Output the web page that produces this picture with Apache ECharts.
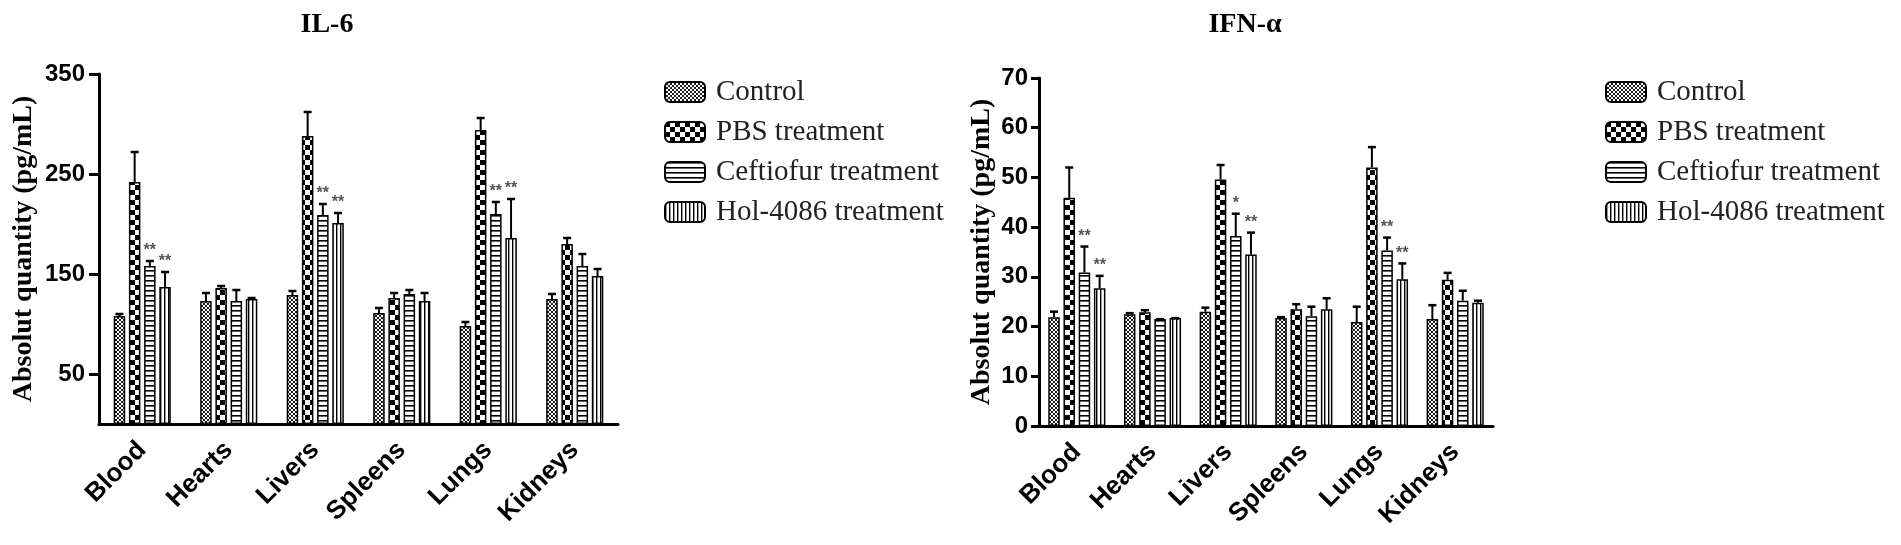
<!DOCTYPE html>
<html>
<head>
<meta charset="utf-8">
<title>IL-6 / IFN-α</title>
<script src="https://cdn.jsdelivr.net/npm/echarts@6/dist/echarts.min.js"></script>
<style>
    html, body { margin: 0; padding: 0; background: #fff; }
    #chart { width: 1901px; height: 545px; }
</style>
</head>
<body>
<div id="chart"></div>
<script>
    // data
    const categories = ['Blood', 'Hearts', 'Livers', 'Spleens', 'Lungs', 'Kidneys'];
    const groupNames = ['Control', 'PBS treatment', 'Ceftiofur treatment', 'Hol-4086 treatment'];

    // IL-6 (pg/mL)
    const il6Control    = [108, 123, 129, 111, 98, 125];
    const il6ControlErr = [110, 131, 133, 116, 102, 130];
    const il6Pbs        = [242, 136, 288, 126, 294, 180];
    const il6PbsErr     = [272, 138, 312, 131, 306, 186];
    const il6Ceft       = [158, 123, 209, 130, 210, 158];
    const il6CeftErr    = [163, 134, 220, 134, 222, 170];
    const il6Hol        = [137, 125, 201, 123, 186, 148];
    const il6HolErr     = [152, 126, 211, 131, 225, 155];
    const il6CeftSig    = ['**', '', '**', '', '**', ''];
    const il6HolSig     = ['**', '', '**', '', '**', ''];
    const il6Ticks      = [50, 150, 250, 350];

    // IFN-α (pg/mL)
    const ifnControl    = [21.9, 22.5, 23.0, 21.7, 20.9, 21.5];
    const ifnControlErr = [23.0, 22.7, 23.8, 21.9, 24.0, 24.3];
    const ifnPbs        = [45.9, 22.9, 49.6, 23.5, 52.0, 29.4];
    const ifnPbsErr     = [52.0, 23.3, 52.5, 24.5, 56.1, 30.8];
    const ifnCeft       = [30.9, 21.5, 38.2, 22.1, 35.3, 25.2];
    const ifnCeftErr    = [36.1, 21.5, 42.7, 24.0, 37.9, 27.2];
    const ifnHol        = [27.7, 21.7, 34.5, 23.5, 29.5, 24.8];
    const ifnHolErr     = [30.2, 21.7, 38.9, 25.7, 32.7, 25.2];
    const ifnCeftSig    = ['**', '', '*', '', '**', ''];
    const ifnHolSig     = ['**', '', '**', '', '**', ''];
    const ifnTicks      = [0, 10, 20, 30, 40, 50, 60, 70];

    // hatch patterns like the original print
    function pattern(w, h, draw) {
        const c = document.createElement('canvas');
        c.width = w; c.height = h;
        const ctx = c.getContext('2d');
        ctx.fillStyle = '#fff';
        ctx.fillRect(0, 0, w, h);
        ctx.fillStyle = '#000';
        ctx.strokeStyle = '#000';
        draw(ctx);
        return { image: c, repeat: 'repeat' };
    }
    const fills = [
        pattern(4, 4, function (ctx) {
            ctx.lineWidth = 0.9;
            ctx.beginPath();
            ctx.moveTo(0, 0); ctx.lineTo(4, 4);
            ctx.moveTo(4, 0); ctx.lineTo(0, 4);
            ctx.stroke();
        }),
        pattern(10, 10, function (ctx) {
            ctx.fillRect(0, 0, 5, 5);
            ctx.fillRect(5, 5, 5, 5);
        }),
        pattern(4, 5, function (ctx) {
            ctx.fillRect(0, 0, 4, 1.6);
        }),
        pattern(4, 4, function (ctx) {
            ctx.fillRect(0, 0, 1.4, 4);
        })
    ];

    const barW = 11.5;
    const gapPx = 3.7;
    const step = barW + gapPx;

    const sansBold = 'Liberation Sans';
    const serif = 'Liberation Serif';

    function barSeries(name, data, idx, axis) {
        return {
            name: name,
            type: 'bar',
            xAxisIndex: axis,
            yAxisIndex: axis,
            data: data,
            barWidth: barW,
            barGap: (gapPx / barW * 100).toFixed(1) + '%',
            itemStyle: { color: fills[idx], borderColor: '#000', borderWidth: 1.5 },
            emphasis: { disabled: true }
        };
    }

    function errorSeries(axis, vals, errs, sigs) {
        const data = [];
        const marks = [];
        for (let g = 0; g < vals.length; g++) {
            for (let c = 0; c < categories.length; c++) {
                data.push([c, vals[g][c], errs[g][c], g]);
                marks.push(sigs[g] ? sigs[g][c] : '');
            }
        }
        return {
            type: 'custom',
            xAxisIndex: axis,
            yAxisIndex: axis,
            z: 5,
            data: data,
            encode: { x: 0, y: [1, 2] },
            renderItem: function (params, api) {
                const c = api.value(0);
                const p0 = api.coord([c, api.value(1)]);
                const p1 = api.coord([c, api.value(2)]);
                const x = p0[0] + (api.value(3) - 1.5) * step;
                const children = [];
                if (p0[1] - p1[1] > 1) {
                    children.push({
                        type: 'line',
                        shape: { x1: x, y1: p0[1], x2: x, y2: p1[1] },
                        style: { stroke: '#000', lineWidth: 2 }
                    });
                }
                children.push({
                    type: 'line',
                    shape: { x1: x - 4, y1: p1[1], x2: x + 4, y2: p1[1] },
                    style: { stroke: '#000', lineWidth: 2.5 }
                });
                const m = marks[params.dataIndex];
                if (m) {
                    children.push({
                        type: 'text',
                        style: {
                            text: m, x: x, y: p1[1] - 2,
                            align: 'center', verticalAlign: 'bottom',
                            font: 'bold 16px ' + sansBold, fill: '#555'
                        }
                    });
                }
                return { type: 'group', children: children };
            }
        };
    }

    function xAxisOf(grid) {
        return {
            gridIndex: grid,
            type: 'category',
            data: categories,
            axisLine: { lineStyle: { color: '#000', width: 3 } },
            axisTick: { alignWithLabel: true, length: 11, lineStyle: { color: '#000', width: 3 } },
            axisLabel: {
                rotate: 45, margin: 22, color: '#000',
                fontFamily: sansBold, fontWeight: 'bold', fontSize: 26
            }
        };
    }

    function yAxisOf(grid, max, interval, ticks, nameGap, labelGap, tickLen) {
        return {
            gridIndex: grid,
            type: 'value',
            min: 0,
            max: max,
            interval: interval,
            name: 'Absolut quantity (pg/mL)',
            nameLocation: 'middle',
            nameGap: nameGap,
            nameTextStyle: { fontFamily: serif, fontWeight: 'bold', fontSize: 28, color: '#000' },
            splitLine: { show: false },
            axisLine: { show: true, lineStyle: { color: '#000', width: 3 } },
            axisTick: { show: true, length: tickLen, customValues: ticks, lineStyle: { color: '#000', width: 3 } },
            axisLabel: {
                customValues: ticks, margin: labelGap, color: '#000',
                fontFamily: sansBold, fontWeight: 'bold', fontSize: 24
            }
        };
    }

    function legendAt(left) {
        return {
            data: groupNames,
            orient: 'vertical',
            left: left,
            top: 72,
            itemWidth: 40,
            itemHeight: 20,
            itemGap: 10,
            selectedMode: false,
            textStyle: { fontFamily: serif, fontSize: 29, lineHeight: 30, color: '#222', padding: [0, 0, 0, 6] }
        };
    }

    const chart = echarts.init(document.getElementById('chart'));
    const option = {
        backgroundColor: '#fff',
        animation: false,
        title: [
            { text: 'IL-6', left: 322, top: 6, textAlign: 'center',
              textStyle: { fontFamily: serif, fontWeight: 'bold', fontSize: 28, color: '#000' } },
            { text: 'IFN-α', left: 1240, top: 6, textAlign: 'center',
              textStyle: { fontFamily: serif, fontWeight: 'bold', fontSize: 28, color: '#000' } }
        ],
        legend: [legendAt(659), legendAt(1600)],
        grid: [
            { left: 99, top: 74, width: 519, height: 350 },
            { left: 1039, top: 78, width: 454, height: 348 }
        ],
        xAxis: [xAxisOf(0), xAxisOf(1)],
        yAxis: [
            yAxisOf(0, 350, 50, il6Ticks, 61, 14, 10),
            yAxisOf(1, 70, 10, ifnTicks, 43, 11, 8)
        ],
        series: [
            barSeries(groupNames[0], il6Control, 0, 0),
            barSeries(groupNames[1], il6Pbs, 1, 0),
            barSeries(groupNames[2], il6Ceft, 2, 0),
            barSeries(groupNames[3], il6Hol, 3, 0),
            barSeries(groupNames[0], ifnControl, 0, 1),
            barSeries(groupNames[1], ifnPbs, 1, 1),
            barSeries(groupNames[2], ifnCeft, 2, 1),
            barSeries(groupNames[3], ifnHol, 3, 1),
            errorSeries(0,
                [il6Control, il6Pbs, il6Ceft, il6Hol],
                [il6ControlErr, il6PbsErr, il6CeftErr, il6HolErr],
                [null, null, il6CeftSig, il6HolSig]),
            errorSeries(1,
                [ifnControl, ifnPbs, ifnCeft, ifnHol],
                [ifnControlErr, ifnPbsErr, ifnCeftErr, ifnHolErr],
                [null, null, ifnCeftSig, ifnHolSig])
        ]
    };
    chart.setOption(option);
</script>
</body>
</html>
